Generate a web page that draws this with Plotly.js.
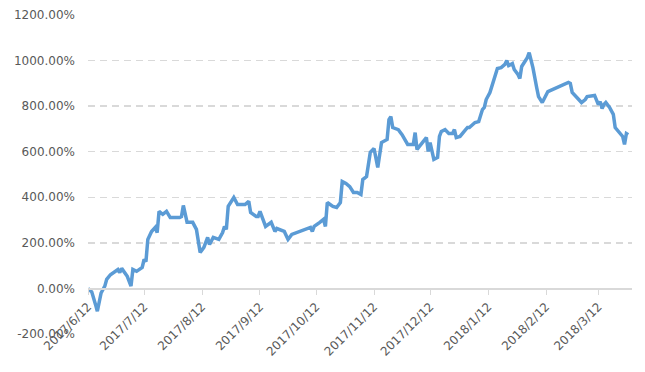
<!DOCTYPE html>
<html>
<head>
<meta charset="utf-8">
<script src="https://cdn.plot.ly/plotly-3.0.1.min.js"></script>
<style>html,body{margin:0;padding:0;background:#fff;}#chart{width:645px;height:372px;}</style>
</head>
<body>
<div id="chart"></div>
<script>
const dates = [
 "2017-06-12","2017-06-14","2017-06-16","2017-06-17","2017-06-19","2017-06-21","2017-06-22","2017-06-24",
 "2017-06-28","2017-06-29","2017-06-30","2017-07-03","2017-07-05","2017-07-06","2017-07-08","2017-07-11",
 "2017-07-12","2017-07-13","2017-07-14","2017-07-16","2017-07-18","2017-07-19","2017-07-20","2017-07-22",
 "2017-07-24","2017-07-26","2017-07-31","2017-08-01","2017-08-02","2017-08-04","2017-08-07","2017-08-09",
 "2017-08-11","2017-08-13","2017-08-15","2017-08-16","2017-08-18","2017-08-21","2017-08-23","2017-08-24",
 "2017-08-25","2017-08-26","2017-08-29","2017-08-31","2017-09-04","2017-09-06","2017-09-07","2017-09-10",
 "2017-09-11","2017-09-12","2017-09-15","2017-09-18","2017-09-20","2017-09-21","2017-09-25","2017-09-27",
 "2017-09-29","2017-10-09","2017-10-10","2017-10-11","2017-10-14","2017-10-16","2017-10-17","2017-10-18",
 "2017-10-21","2017-10-23","2017-10-25","2017-10-26","2017-10-28","2017-10-30","2017-11-01","2017-11-03",
 "2017-11-05","2017-11-06","2017-11-08","2017-11-10","2017-11-12","2017-11-13","2017-11-14","2017-11-16",
 "2017-11-19","2017-11-20","2017-11-21","2017-11-22","2017-11-25","2017-11-27","2017-11-30","2017-12-03",
 "2017-12-04","2017-12-05","2017-12-08","2017-12-10","2017-12-11","2017-12-12","2017-12-14","2017-12-16",
 "2017-12-17","2017-12-18","2017-12-20","2017-12-22","2017-12-24","2017-12-25","2017-12-26","2017-12-28",
 "2017-12-31","2018-01-01","2018-01-02","2018-01-05","2018-01-07","2018-01-09","2018-01-10","2018-01-11",
 "2018-01-13","2018-01-15","2018-01-17","2018-01-19","2018-01-21","2018-01-22","2018-01-23","2018-01-25",
 "2018-01-26","2018-01-28","2018-01-29","2018-01-30","2018-02-02","2018-02-03","2018-02-05","2018-02-07",
 "2018-02-08","2018-02-10","2018-02-13","2018-02-24","2018-02-25","2018-02-26","2018-02-28","2018-03-03",
 "2018-03-05","2018-03-06","2018-03-10","2018-03-12","2018-03-13","2018-03-14","2018-03-15","2018-03-16",
 "2018-03-18","2018-03-20","2018-03-21","2018-03-23","2018-03-25","2018-03-26","2018-03-27","2018-03-28"
];
const returnsPct = [
 0,-15,-70,-100,-20,10,40,60,
 83,70,88,53,10,83,75,92,
 127,118,215,250,268,245,338,325,
 338,311,311,315,364,290,290,259,
 158,180,224,193,224,215,245,272,
 259,360,399,368,368,382,333,316,
 316,338,272,290,250,263,250,215,
 237,268,250,272,290,303,272,377,
 360,355,377,469,461,447,421,421,
 412,478,491,597,614,579,531,640,
 654,741,754,706,697,675,632,632,
 684,610,645,662,601,640,566,575,
 667,689,697,680,680,697,662,667,
 697,706,706,728,732,785,794,829,
 860,908,965,969,983,1000,978,987,
 961,939,921,974,1013,1035,969,882,
 842,816,864,904,900,860,842,816,
 829,842,847,807,820,790,807,816,
 794,764,706,689,667,632,680,675
];
const xTickVals = ["2017-06-12","2017-07-12","2017-08-12","2017-09-12","2017-10-12","2017-11-12","2017-12-12","2018-01-12","2018-02-12","2018-03-12"];
const xTickText = ["2017/6/12","2017/7/12","2017/8/12","2017/9/12","2017/10/12","2017/11/12","2017/12/12","2018/1/12","2018/2/12","2018/3/12"];
const yTickVals = [-200,0,200,400,600,800,1000,1200];
const yTickText = ["-200.00%","0.00%","200.00%","400.00%","600.00%","800.00%","1000.00%","1200.00%"];

const yMin = -200, yMax = 1200;
const trace = {
  x: dates, y: returnsPct, type: "scatter", mode: "lines",
  line: {color: "#5B9BD5", width: 3.5, shape: "linear"},
  hoverinfo: "skip"
};
const layout = {
  width: 645, height: 372,
  margin: {l: 88, r: 13, t: 15, b: 38},
  paper_bgcolor: "#ffffff", plot_bgcolor: "#ffffff",
  showlegend: false,
  font: {family: "DejaVu Sans, sans-serif", size: 12, color: "#595959"},
  xaxis: {
    type: "date",
    range: ["2017-06-12", "2018-03-30"],
    anchor: "free",
    position: (0 - yMin) / (yMax - yMin),
    showgrid: false, zeroline: false,
    showline: true, linecolor: "#d9d9d9", linewidth: 1.5,
    ticks: "outside", ticklen: 5, tickcolor: "#d9d9d9", tickwidth: 1,
    tickmode: "array", tickvals: xTickVals, ticktext: xTickText,
    tickangle: -45,
    tickfont: {family: "DejaVu Sans, sans-serif", size: 12, color: "#595959"}
  },
  yaxis: {
    range: [yMin, yMax],
    tickmode: "array", tickvals: yTickVals, ticktext: yTickText,
    showgrid: true, gridcolor: "#d9d9d9", gridwidth: 1.5, griddash: "7px,5px",
    zeroline: false, showline: false, ticks: "",
    ticklabelstandoff: 12,
    tickfont: {family: "DejaVu Sans, sans-serif", size: 12, color: "#595959"}
  }
};
Plotly.newPlot("chart", [trace], layout, {displayModeBar: false, staticPlot: true});
</script>
</body>
</html>
